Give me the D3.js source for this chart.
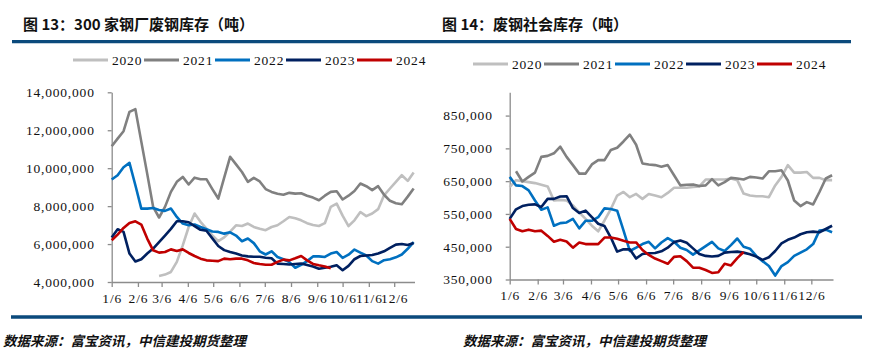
<!DOCTYPE html>
<html>
<head>
<meta charset="utf-8">
<style>
    body { margin: 0; background: #fff; }
    svg { display: block; }
    .title { font-family: "Noto Sans CJK SC", sans-serif; font-weight: 700; font-size: 15px; fill: #111; }
    .source { font-family: "Noto Sans CJK SC", sans-serif; font-weight: 700; font-style: italic; font-size: 13.5px; fill: #111; }
    .axis text, .legend text { font-family: "Liberation Serif", serif; font-size: 13.5px; letter-spacing: .8px; fill: #111; }
    .axis path, .axis line { stroke: #8c8c8c; stroke-width: 1.3; }
</style>
</head>
<body>
<svg width="869" height="362"></svg>

<script src="https://cdn.jsdelivr.net/npm/d3@7"></script>
<script>
    // shared
    const years = ["2020", "2021", "2022", "2023", "2024"]
    const colors = ["#BFBFBF", "#808080", "#0070C0", "#002060", "#C00000"]
    const monthTicks = ["1/6", "2/6", "3/6", "4/6", "5/6", "6/6", "7/6", "8/6", "9/6", "10/6", "11/6", "12/6"]

    // 图13: 300家钢厂废钢库存, million tonnes, weekly from 1/6
    const mill2020 = [null, null, null, null, null, null, null, null, 4.32, 4.39, 4.53, 5.06, 5.93, 6.9, 7.61, 7.17, 6.81, 6.46, 6.15, 6.35, 6.65, 6.99, 6.95, 7.08, 6.9, 6.81, 6.73, 6.9, 6.99, 7.2, 7.43, 7.36, 7.25, 7.1, 7.0, 6.95, 7.1, 7.96, 8.13, 7.5, 6.95, 7.25, 7.69, 7.47, 7.61, 7.84, 8.57, 8.93, 9.28, 9.63, 9.33, 9.77]
    const mill2021 = [11.16, 11.56, 11.95, 12.97, 13.11, 11.4, 9.7, 7.96, 7.4, 7.96, 8.75, 9.28, 9.54, 9.14, 9.5, 9.42, 9.42, 8.9, 8.4, 9.5, 10.6, 10.2, 9.8, 9.28, 9.49, 9.3, 8.9, 8.75, 8.65, 8.6, 8.7, 8.66, 8.68, 8.55, 8.45, 8.31, 8.55, 8.75, 8.78, 8.35, 8.55, 8.8, 9.19, 9.05, 8.84, 9.05, 8.6, 8.28, 8.15, 8.1, 8.5, 8.93]
    const mill2022 = [9.4, 9.63, 10.05, 10.28, 9.1, 7.87, 7.87, 7.9, 7.8, 7.75, 7.87, 7.43, 7.08, 6.99, 7.03, 6.9, 6.78, 6.66, 6.64, 6.55, 6.62, 6.45, 6.15, 6.29, 6.05, 5.62, 5.45, 5.62, 5.32, 5.2, 5.05, 4.75, 4.9, 5.1, 5.35, 5.35, 5.32, 5.5, 5.58, 5.27, 5.44, 5.71, 5.55, 5.4, 5.1, 4.97, 5.15, 5.2, 5.3, 5.45, 5.75, 6.1]
    const mill2023 = [6.35, 6.78, 6.64, 5.5, 5.08, 5.2, 5.5, 5.76, 6.1, 6.45, 6.8, 7.2, 7.2, 7.15, 6.95, 6.75, 6.7, 6.3, 5.9, 5.68, 5.58, 5.5, 5.4, 5.35, 5.33, 5.33, 5.28, 5.25, 4.97, 4.95, 4.92, 4.95, 4.97, 4.9, 4.82, 4.7, 4.75, 4.8, 4.88, 4.62, 4.85, 5.2, 5.37, 5.4, 5.42, 5.5, 5.62, 5.8, 5.97, 6.0, 5.95, 6.05]
    const mill2024 = [6.2, 6.5, 6.85, 7.11, 7.2, 7.03, 6.29, 5.67, 5.55, 5.58, 5.72, 5.64, 5.72, 5.53, 5.37, 5.23, 5.14, 5.12, 5.1, 5.23, 5.2, 5.23, 5.23, 5.14, 5.0, 4.95, 4.91, 4.91, 5.06, 5.18, 5.14, 5.25, 5.37, 5.14, 4.95, 4.88, 4.82, 4.72]
    const millTicks = [4, 6, 8, 10, 12, 14]

    // 图14: 废钢社会库存, thousand tonnes, weekly from 1/6
    const soc2020 = [632, 653, 650, 647, 644, 639, 634, 591, 593, 591, 576, 555, 535, 514, 497, 530, 565, 606, 617, 601, 611, 596, 611, 606, 601, 614, 630, 630, 630, 632, 634, 655, 655, 655, 655, 658, 653, 612, 606, 604, 604, 601, 637, 663, 699, 676, 676, 678, 660, 660, 653, 653]
    const soc2021 = [null, 680, 649, 663, 676, 724, 727, 735, 755, 724, 699, 673, 673, 701, 714, 714, 745, 752, 771, 792, 761, 704, 701, 699, 694, 699, 668, 637, 639, 640, 635, 637, 656, 637, 647, 660, 658, 655, 663, 661, 658, 680, 680, 683, 652, 591, 574, 586, 579, 617, 658, 668]
    const soc2022 = [663, 637, 635, 622, 591, 563, 570, 514, 522, 524, 535, 506, 529, 529, 540, 567, 565, 560, 500, 437, 447, 458, 465, 445, 463, 476, 465, 447, 440, 426, 439, 452, 465, 445, 437, 455, 475, 450, 444, 422, 406, 391, 362, 391, 403, 422, 432, 442, 458, 499, 502, 494]
    const soc2023 = [535, 564, 574, 578, 579, 571, 596, 596, 603, 604, 568, 553, 560, 540, 520, 513, 478, 435, 442, 442, 414, 428, 430, 431, 436, 447, 464, 469, 462, 445, 428, 422, 420, 422, 432, 434, 435, 432, 427, 420, 410, 418, 437, 460, 471, 478, 488, 494, 496, 494, 504, 514]
    const soc2024 = [535, 504, 497, 502, 497, 499, 483, 465, 471, 466, 447, 463, 458, 458, 458, 478, 478, 474, 468, 463, 463, 440, 425, 414, 406, 398, 419, 421, 406, 386, 386, 379, 370, 372, 398, 393, 415, 434]
    const socTicks = [350, 450, 550, 650, 750, 850]

    const svg = d3.select("svg")

    const weekDate = i => new Date(2023, 0, 6 + 7 * i)
    const tickDates = monthTicks.map(s => {
        let [m, d] = s.split("/").map(Number)
        return new Date(2023, m - 1, d)
    })

    function drawPanel(p) {
        let g = svg.append("g")

        g.append("text").attr("class", "title")
            .attr("x", p.titleX).attr("y", 30)
            .text(p.title)

        g.append("text").attr("class", "source")
            .attr("x", p.sourceX).attr("y", 346)
            .text("数据来源：富宝资讯，中信建投期货整理")

        let x = d3.scaleTime()
            .domain([new Date(2023, 0, 6), new Date(2023, 11, 30)])
            .range([p.left, p.right])

        let y = d3.scaleLinear()
            .domain(p.yDomain)
            .range([p.bottom, p.top])

        g.append("g").attr("class", "axis")
            .attr("transform", `translate(${p.left},0)`)
            .call(d3.axisLeft(y).tickValues(p.yTicks).tickSize(4).tickSizeOuter(0).tickPadding(13)
                .tickFormat(d => d3.format(",")(Math.round(d * p.unit))))

        g.append("g").attr("class", "axis")
            .attr("transform", `translate(0,${p.bottom})`)
            .call(d3.axisBottom(x).tickValues(tickDates).tickSize(5).tickSizeOuter(0).tickPadding(6)
                .tickFormat((d, i) => monthTicks[i]))

        let line = d3.line()
            .defined(d => d != null)
            .x((d, i) => x(weekDate(i)))
            .y(d => y(d))

        g.append("g")
            .selectAll("path")
            .data(p.series)
            .join("path")
            .attr("d", d => line(d))
            .attr("fill", "none")
            .attr("stroke", (d, i) => colors[i])
            .attr("stroke-width", 2.6)
            .attr("stroke-linejoin", "round")

        let legend = g.append("g").attr("class", "legend")
            .selectAll("g")
            .data(years)
            .join("g")
            .attr("transform", (d, i) => `translate(${p.legendX + i * 71},${p.legendY})`)

        legend.append("line")
            .attr("x1", 0).attr("x2", 35)
            .attr("stroke", (d, i) => colors[i])
            .attr("stroke-width", 3)

        legend.append("text")
            .attr("x", 39).attr("y", 4.5)
            .text(d => d)
    }

    drawPanel({
        title: "图 13：300 家钢厂废钢库存（吨）",
        titleX: 23, sourceX: 3,
        left: 111.7, right: 414.5, top: 92.3, bottom: 282,
        yDomain: [4, 14], yTicks: millTicks, unit: 1e6,
        series: [mill2020, mill2021, mill2022, mill2023, mill2024],
        legendX: 73, legendY: 60
    })

    drawPanel({
        title: "图 14：废钢社会库存（吨）",
        titleX: 442, sourceX: 463,
        left: 509.7, right: 833, top: 92.3, bottom: 279.5,
        yDomain: [350, 921], yTicks: socTicks, unit: 1e3,
        series: [soc2020, soc2021, soc2022, soc2023, soc2024],
        legendX: 473, legendY: 64
    })

    // header and footer rules
    svg.append("line")
        .attr("x1", 12).attr("x2", 851).attr("y1", 41.7).attr("y2", 41.7)
        .attr("stroke", "#0B4A7C").attr("stroke-width", 3.2)

    svg.append("line")
        .attr("x1", 11).attr("x2", 862).attr("y1", 317).attr("y2", 317)
        .attr("stroke", "#0B4A7C").attr("stroke-width", 3.5)
</script>
</body>
</html>
